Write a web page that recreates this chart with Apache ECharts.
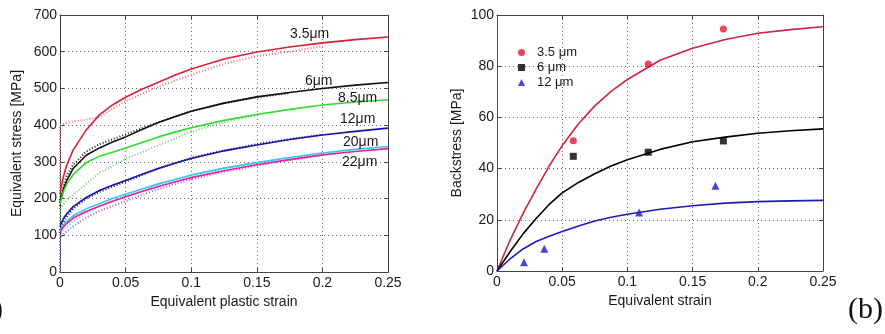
<!DOCTYPE html>
<html>
<head>
<meta charset="utf-8">
<script src="https://cdn.jsdelivr.net/npm/echarts@6/dist/echarts.min.js"></script>
<style>
html,body{margin:0;padding:0;background:#fff;}
#chart{width:885px;height:334px;}
</style>
</head>
<body>
<div id="chart"></div>
<script>
// ---------- (a) Equivalent stress vs equivalent plastic strain ----------
const strainTicks = [0, 0.05, 0.1, 0.15, 0.2, 0.25];
const stressTicks = [0, 100, 200, 300, 400, 500, 600, 700];
const grainLabels = ['3.5μm', '6μm', '8.5μm', '12μm', '20μm', '22μm'];

// model curves (solid)
const strainFit = [0, 0.0025, 0.005, 0.01, 0.02, 0.03, 0.04, 0.05, 0.0625, 0.075, 0.0875, 0.1, 0.125, 0.15, 0.175, 0.2, 0.225, 0.25];
const fit35 = [215, 258, 290, 332, 387, 428, 455, 476, 498, 517, 536, 553, 580, 599, 613, 624, 633, 640];
const fit6  = [190, 225, 248, 282, 318, 338, 354, 368, 388, 407, 423, 438, 460, 477, 489, 500, 509, 516];
const fit85 = [185, 218, 238, 265, 298, 315, 326, 338, 353, 368, 381, 393, 413, 429, 443, 455, 463, 469];
const fit12 = [125, 145, 158, 178, 203, 222, 236, 249, 266, 282, 296, 309, 330, 346, 361, 373, 383, 392];
const fit20 = [112, 128, 138, 153, 172, 186, 200, 212, 226, 240, 252, 264, 283, 298, 312, 324, 334, 342];
const fit22 = [108, 122, 132, 147, 165, 179, 193, 205, 219, 233, 245, 257, 276, 292, 306, 319, 328, 336];

// experimental curves (dotted)
const strainExp = [0, 0, 0.005, 0.01, 0.02, 0.03, 0.05, 0.075, 0.1, 0.125, 0.15, 0.175, 0.2];
const exp35 = [0, 400, 406, 410, 415, 422, 465, 505, 537, 567, 588, 600, 615];
const exp6  = [0, 195, 262, 292, 328, 348, 375, 408, 438, 460, 476, 487, null];
const exp85 = [0, 170, 195, 210, 240, 270, 308, 345, 382, 408, 427, null, null];
const exp12 = [0, 118, 150, 172, 200, 218, 246, 282, 311, 331, 348, 362, 374];
const exp20 = [0, 100, 122, 138, 160, 178, 206, 236, 261, 281, 297, 311, 323];
const exp22 = [0, 92, 110, 124, 148, 166, 193, 226, 252, 273, 290, 305, 318];

// ---------- (b) Backstress vs equivalent strain ----------
const backTicks = [0, 20, 40, 60, 80, 100];
const legendNames = ['3.5 μm', '6 μm', '12 μm'];
const strainB = [0, 0.01, 0.02, 0.03, 0.04, 0.05, 0.0625, 0.075, 0.0875, 0.1, 0.125, 0.15, 0.175, 0.2, 0.225, 0.25];
const backFit35 = [0, 12, 22.5, 32, 41, 49, 57.5, 64.5, 70.2, 74.8, 82.3, 87, 90.4, 92.9, 94.3, 95.4];
const backFit6  = [0, 7.5, 14.5, 20.5, 26, 30.5, 34.6, 38, 41, 43.5, 47.5, 50.5, 52.3, 53.8, 54.8, 55.5];
const backFit12 = [0, 4.7, 8.6, 11.5, 13.6, 15.4, 17.6, 19.5, 21, 22.2, 24.1, 25.5, 26.5, 27.1, 27.4, 27.6];
const ptStrain35 = [0.0585, 0.116, 0.1736];
const ptBack35   = [50.9, 80.9, 94.5];
const ptStrain6  = [0.0585, 0.116, 0.1736];
const ptBack6    = [44.8, 46.4, 50.8];
const ptStrain12 = [0.0207, 0.0363, 0.109, 0.1675];
const ptBack12   = [3.4, 8.7, 22.9, 33.3];

// ---------- build ----------
const pairs = (xs, ys) => xs.map((x, i) => [x, ys[i]]);
const FONT = 'Liberation Sans, Arial, sans-serif';
const TXT = '#1a1a1a';
const fmtStrain = v => String(+(+v).toFixed(2));

function mainX(gi, name) {
  const t = strainTicks;
  return {
    gridIndex: gi, type: 'value', min: t[0], max: t[t.length - 1], interval: t[1] - t[0],
    name: name, nameLocation: 'middle', nameGap: 21,
    nameTextStyle: {fontFamily: FONT, fontSize: 14, color: TXT},
    axisLine: {show: true, onZero: false, lineStyle: {color: '#444', width: 1}},
    axisTick: {show: true, inside: true, length: 4, lineStyle: {color: '#444'}},
    axisLabel: {fontFamily: FONT, fontSize: 14, color: TXT, margin: 4, formatter: fmtStrain},
    splitLine: {show: true, lineStyle: {color: '#666', type: [1, 3], width: 1}}
  };
}
function topX(gi) {
  const t = strainTicks;
  return {
    gridIndex: gi, type: 'value', position: 'top', min: t[0], max: t[t.length - 1], interval: t[1] - t[0],
    axisLine: {show: true, onZero: false, lineStyle: {color: '#444', width: 1}},
    axisTick: {show: true, inside: true, length: 4, lineStyle: {color: '#444'}},
    axisLabel: {show: false}, splitLine: {show: false}
  };
}
function mainY(gi, ticks, name, gap) {
  return {
    gridIndex: gi, type: 'value', min: ticks[0], max: ticks[ticks.length - 1], interval: ticks[1] - ticks[0],
    name: name, nameLocation: 'middle', nameGap: gap, nameRotate: 90,
    nameTextStyle: {fontFamily: FONT, fontSize: 14, color: TXT},
    axisLine: {show: true, onZero: false, lineStyle: {color: '#444', width: 1}},
    axisTick: {show: true, inside: true, length: 4, lineStyle: {color: '#444'}},
    axisLabel: {fontFamily: FONT, fontSize: 14, color: TXT, margin: 3},
    splitLine: {show: true, lineStyle: {color: '#666', type: [1, 3], width: 1}}
  };
}
function rightY(gi, ticks) {
  return {
    gridIndex: gi, type: 'value', position: 'right', min: ticks[0], max: ticks[ticks.length - 1], interval: ticks[1] - ticks[0],
    axisLine: {show: true, onZero: false, lineStyle: {color: '#444', width: 1}},
    axisTick: {show: true, inside: true, length: 4, lineStyle: {color: '#444'}},
    axisLabel: {show: false}, splitLine: {show: false}
  };
}

const fitA = [fit35, fit6, fit85, fit12, fit20, fit22];
const expA = [exp35, exp6, exp85, exp12, exp20, exp22];
const fitColors = ['#dd1f35', '#111111', '#2edc2e', '#1414a8', '#33c8ea', '#e6209e'];
const expColors = ['#e0708a', '#222222', '#70d070', '#181850', '#60c8e0', '#9a60d0'];

const series = [];
expA.forEach((ys, i) => {
  series.push({
    type: 'line', xAxisIndex: 0, yAxisIndex: 0, data: pairs(strainExp, ys),
    showSymbol: false, symbol: 'none', smooth: false, connectNulls: false, z: 2,
    lineStyle: {color: expColors[i], width: 2, type: [1, 2]}, silent: true
  });
});
fitA.forEach((ys, i) => {
  series.push({
    type: 'line', xAxisIndex: 0, yAxisIndex: 0, data: pairs(strainFit, ys),
    showSymbol: false, symbol: 'none', smooth: false, z: 3,
    lineStyle: {color: fitColors[i], width: 1.6, join: 'round'}, silent: true
  });
});

const backFits = [backFit35, backFit6, backFit12];
const backLineColors = ['#cf2446', '#000000', '#1c1cb8'];
backFits.forEach((ys, i) => {
  series.push({
    type: 'line', xAxisIndex: 2, yAxisIndex: 2, data: pairs(strainB, ys),
    showSymbol: false, symbol: 'none', smooth: false, z: 3,
    lineStyle: {color: backLineColors[i], width: 1.6, join: 'round'}, silent: true
  });
});
const ptSets = [[ptStrain35, ptBack35], [ptStrain6, ptBack6], [ptStrain12, ptBack12]];
const ptSymbols = ['circle', 'rect', 'triangle'];
const ptColors = ['#e8142c', '#000000', '#1a1acc'];
const ptSizes = [7, 7, 8];
ptSets.forEach((p, i) => {
  series.push({
    name: legendNames[i], type: 'scatter', xAxisIndex: 2, yAxisIndex: 2,
    data: pairs(p[0], p[1]), symbol: ptSymbols[i], symbolSize: ptSizes[i], z: 5,
    itemStyle: {color: ptColors[i]}
  });
});

const labelPos = [[290, 35], [305, 82], [338, 99], [340, 120], [343, 143], [342, 163]];
const graphics = grainLabels.map((t, i) => ({
  type: 'text', left: labelPos[i][0], top: labelPos[i][1] - 8, z: 10,
  style: {text: t, font: '14px ' + FONT, fill: TXT}
}));
graphics.push({type: 'text', left: 848, top: 295, style: {text: '(b)', font: '30px "Liberation Serif", "DejaVu Serif", serif', fill: '#111'}});
graphics.push({type: 'text', right: 882, top: 295, style: {text: '(a)', font: '30px "Liberation Serif", "DejaVu Serif", serif', fill: '#111'}});

const option = {
  animation: false,
  backgroundColor: '#ffffff',
  grid: [
    {left: 60, top: 15, width: 328, height: 257, containLabel: false},
    {left: 497, top: 15, width: 326, height: 256, containLabel: false}
  ],
  xAxis: [mainX(0, 'Equivalent plastic strain'), topX(0), mainX(1, 'Equivalent strain'), topX(1)],
  yAxis: [mainY(0, stressTicks, 'Equivalent stress [MPa]', 36), rightY(0, stressTicks),
          mainY(1, backTicks, 'Backstress [MPa]', 33), rightY(1, backTicks)],
  legend: {
    data: legendNames, orient: 'vertical', left: 513, top: 41, itemWidth: 7, itemHeight: 7, itemGap: 2,
    textStyle: {fontFamily: FONT, fontSize: 13, color: TXT, padding: [0, 0, 0, 7]}, selectedMode: false
  },
  graphic: graphics,
  series: series
};

const chart = echarts.init(document.getElementById('chart'), null, {renderer: 'canvas'});
chart.setOption(option);
</script>
</body>
</html>
